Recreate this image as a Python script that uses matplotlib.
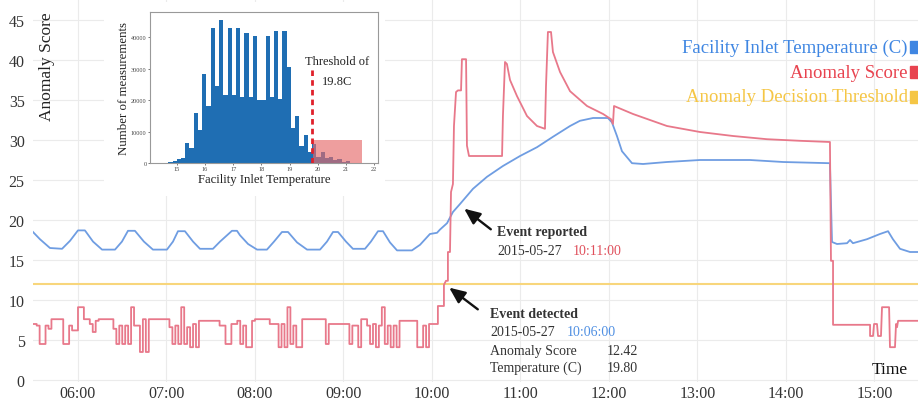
import matplotlib
matplotlib.use("Agg")
import matplotlib.pyplot as plt
from matplotlib.patches import Rectangle, FancyArrowPatch
import numpy as np

W, H = 918, 402
plt.rcParams['font.family'] = ['Liberation Serif', 'DejaVu Serif']

# ---------------- data ----------------
# Facility inlet temperature (minutes after midnight, degC)
temp_min = [329.5, 334.2, 341.0, 349.2, 354.6, 360.0, 364.7, 370.2, 376.3, 385.1,
            389.8, 393.9, 398.6, 404.7, 410.8, 420.3, 424.4, 427.8, 432.5, 438.0,
            442.7, 451.5, 456.3, 464.4, 467.8, 469.8, 475.3, 481.4, 488.1, 492.9,
            498.3, 502.4, 508.5, 515.3, 524.1, 528.8, 532.9, 536.3, 541.7, 546.4,
            554.6, 558.6, 563.4, 566.8, 571.5, 576.3, 586.4, 591.9, 598.6, 603.4,
            605.4, 610.2, 614.2, 619.0, 627.8, 637.3, 648.1, 659.7, 671.2, 682.0,
            693.6, 700.3, 709.2, 719.3, 722.0, 725.4, 728.8, 735.6, 743.1, 759.3,
            781.7, 815.6, 838.0, 869.8, 871.2, 874.6, 881.4, 883.4, 885.4, 894.9,
            903.7, 909.2, 912.5, 917.3, 924.1, 929.5]
temp_val = [18.5, 17.6, 16.5, 16.4, 17.4, 18.7, 18.7, 17.3, 16.3, 16.3,
            17.3, 18.65, 18.65, 17.3, 16.3, 16.3, 17.3, 18.6, 18.6, 17.3,
            16.4, 16.4, 17.3, 18.65, 18.65, 18.1, 17.0, 16.3, 16.3, 17.3,
            18.5, 18.5, 17.2, 16.3, 16.3, 17.3, 18.5, 18.5, 17.3, 16.4,
            16.4, 17.3, 18.6, 18.6, 17.2, 16.2, 16.2, 16.9, 18.25, 18.4,
            18.8, 19.6, 21.0, 22.0, 23.9, 25.4, 26.75, 28.0, 29.1, 30.4,
            31.75, 32.4, 32.75, 32.75, 32.2, 30.5, 28.6, 27.1, 27.0, 27.25,
            27.5, 27.5, 27.25, 27.1, 17.25, 17.0, 17.1, 17.5, 17.1, 17.6,
            18.25, 18.6, 17.6, 16.4, 16.0, 16.0]

# Anomaly score before the event: one value every 2 minutes from 05:30
score_base_start = 330
score_base_step = 2
score_base = [7.0, 6.8, 4.5, 4.5, 6.8, 6.4, 7.6, 7.6, 7.6, 7.6,
              4.5, 4.5, 6.8, 6.2, 6.2, 9.1, 9.1, 7.6, 7.6, 7.0,
              6.0, 7.4, 7.6, 7.6, 7.6, 7.6, 7.6, 6.4, 4.5, 6.8,
              4.5, 6.8, 4.5, 9.1, 6.8, 6.8, 3.5, 7.6, 3.5, 7.6,
              7.6, 7.6, 7.6, 7.6, 7.6, 7.6, 6.6, 4.5, 6.8, 4.5,
              9.1, 4.5, 6.6, 4.1, 7.0, 4.1, 7.4, 7.4, 7.4, 7.4,
              7.4, 7.4, 7.4, 6.8, 6.8, 4.5, 4.5, 7.0, 7.0, 7.4,
              4.5, 6.8, 4.1, 4.1, 7.4, 7.6, 7.6, 7.6, 7.6, 7.6,
              7.0, 7.0, 7.0, 4.1, 7.0, 4.1, 9.1, 4.5, 6.8, 4.1,
              4.1, 7.6, 7.6, 7.6, 7.6, 7.6, 7.6, 7.6, 7.6, 4.5,
              7.0, 7.0, 7.0, 7.0, 7.0, 7.0, 7.0, 4.5, 6.8, 6.8,
              4.1, 7.6, 7.6, 6.8, 4.5, 7.0, 4.1, 6.8, 9.1, 4.5,
              6.8, 4.1, 6.8, 4.1, 7.4, 7.4, 7.4, 7.4, 7.4, 7.4,
              4.1, 4.1, 6.8, 4.1, 7.0, 7.0, 7.0]
# Anomaly score from the event onwards (minutes after midnight, score)
score_evt_min = [604.0, 604.0, 608.1, 608.1, 609.5, 610.8, 610.8, 612.2, 612.9, 614.2,
                 614.9, 616.3, 617.6, 619.7, 620.3, 623.1, 623.7, 625.1, 647.5, 648.1,
                 649.5, 650.8, 652.9, 657.6, 664.4, 671.2, 676.6, 677.3, 678.6, 680.7,
                 682.0, 686.8, 693.6, 705.1, 716.0, 721.4, 722.7, 723.4, 736.3, 759.3,
                 781.7, 804.1, 827.1, 849.5, 869.8, 870.5, 871.9, 871.9, 897.0, 897.0,
                 899.0, 899.7, 901.7, 902.4, 904.4, 905.1, 909.9, 910.5, 913.9, 914.6,
                 915.3, 916.0, 929.5]
score_evt_val = [7.0, 9.25, 9.25, 11.9, 12.4, 12.4, 16.0, 16.0, 23.5, 24.5,
                 31.75, 36.0, 36.2, 36.2, 40.1, 40.1, 29.3, 28.0, 28.0, 33.0,
                 39.75, 39.5, 37.5, 35.5, 33.0, 31.75, 31.4, 36.75, 43.5, 43.5,
                 41.0, 38.5, 36.1, 34.25, 33.25, 32.6, 32.0, 34.25, 33.25, 31.75,
                 31.0, 30.5, 30.1, 29.9, 29.75, 14.9, 14.9, 6.9, 6.9, 5.5,
                 5.5, 7.0, 7.0, 5.5, 5.5, 9.1, 9.1, 4.1, 4.1, 7.0,
                 6.6, 7.4, 7.4]
decision_threshold = 12.0

hour_ticks = [6, 7, 8, 9, 10, 11, 12, 13, 14, 15]
hour_labels = ['06:00', '07:00', '08:00', '09:00', '10:00',
               '11:00', '12:00', '13:00', '14:00', '15:00']
score_ticks = [0, 5, 10, 15, 20, 25, 30, 35, 40, 45]

# Inset histogram
hist_start = 14.7
hist_width = 0.15
hist_counts = [300, 500, 1200, 1500, 6300, 4800, 16000, 10500, 28500, 18000,
               43000, 24500, 45500, 21500, 43000, 21500, 43000, 21000, 41500, 21000,
               40500, 20000, 20000, 40500, 21000, 42000, 20500, 42000, 30500, 11000,
               15000, 5500, 9000, 3500, 6000, 2000, 3500, 1500, 2000, 800,
               1200, 300, 600, 100]
hist_threshold = 19.8
tail_box = (19.82, 21.57, 7200)
hist_xticks = [15, 16, 17, 18, 19, 20, 21, 22]
hist_yticks = [0, 10000, 20000, 30000, 40000]

# ---------------- colours ----------------
c_temp = '#6f9de2'
c_score = '#e8788a'
c_thr = '#f8d67c'

def fx(px):
    return px / W

def fy(py):
    return 1 - py / H

fig = plt.figure(figsize=(W / 100, H / 100), dpi=100)
ax = fig.add_axes([fx(33), fy(383), 1 - fx(33), 383 / H])
ax.set_zorder(0)

# score polyline
sx, sy = [], []
for i, v in enumerate(score_base):
    t0 = score_base_start + i * score_base_step
    sx += [t0, t0 + score_base_step]
    sy += [v, v]
sx = np.array(sx + score_evt_min) / 60.0
sy = np.array(sy + score_evt_val)

ax.axhline(decision_threshold, color=c_thr, lw=1.5, zorder=2)
ax.plot(np.array(temp_min) / 60.0, temp_val, color=c_temp, lw=1.3, zorder=3)
ax.plot(sx, sy, color=c_score, lw=1.3, zorder=4)

ax.set_xlim(329.5 / 60, 929.5 / 60)
ax.set_ylim(-0.25, 47.625)
ax.set_xticks(hour_ticks)
ax.set_xticklabels(hour_labels)
ax.set_yticks(score_ticks)
for s in ax.spines.values():
    s.set_visible(False)
ax.tick_params(axis='both', length=0, labelsize=11.5, colors='#333333')
ax.tick_params(axis='y', pad=6)
ax.tick_params(axis='x', pad=2)
ax.grid(True, color='#ebebeb', lw=0.8)
ax.set_axisbelow(True)

fig.text(fx(47), fy(12), 'Anomaly Score', rotation=90, ha='center', va='top',
         fontsize=12.5, color='#222222')
fig.text(fx(908), fy(370), 'Time', ha='right', va='center', fontsize=12.5, color='#111111')

# legend
leg = [('Facility Inlet Temperature (C)', '#3f86e2', 48),
       ('Anomaly Score', '#e8434f', 73),
       ('Anomaly Decision Threshold', '#f5c645', 98)]
for txt, col, py in leg:
    fig.text(fx(908), fy(py), txt, ha='right', va='center', fontsize=13.5, color=col)
    fig.patches.append(Rectangle((fx(910), fy(py + 6)), fx(9), 12 / H,
                                 transform=fig.transFigure, color=col, zorder=5))

# annotations
dark = '#333333'
ann_fs = 10
fig.text(fx(497), fy(233), 'Event reported', fontweight='bold', fontsize=ann_fs,
         color=dark, va='center')
fig.text(fx(497), fy(252), '2015-05-27', fontsize=ann_fs, color=dark, va='center')
fig.text(fx(573), fy(252), '10:11:00', fontsize=ann_fs, color='#e0505c', va='center')
fig.text(fx(490), fy(315), 'Event detected', fontweight='bold', fontsize=ann_fs,
         color=dark, va='center')
fig.text(fx(490), fy(333), '2015-05-27', fontsize=ann_fs, color=dark, va='center')
fig.text(fx(567), fy(333), '10:06:00', fontsize=ann_fs, color='#4f8fe2', va='center')
fig.text(fx(490), fy(352), 'Anomaly Score', fontsize=ann_fs, color=dark, va='center')
fig.text(fx(607), fy(352), '12.42', fontsize=ann_fs, color=dark, va='center')
fig.text(fx(490), fy(368), 'Temperature (C)', fontsize=ann_fs, color=dark, va='center')
fig.text(fx(607), fy(368), '19.80', fontsize=ann_fs, color=dark, va='center')

arrow_kw = dict(arrowstyle='-|>,head_length=0.8,head_width=0.35', color='#111111', lw=1.7)
fig.add_artist(FancyArrowPatch((fx(493), fy(232)), (fx(462), fy(208)),
               transform=fig.transFigure, mutation_scale=12, zorder=6, **arrow_kw))
fig.add_artist(FancyArrowPatch((fx(480), fy(312)), (fx(447), fy(287)),
               transform=fig.transFigure, mutation_scale=12, zorder=6, **arrow_kw))

# white backing for inset
fig.patches.append(Rectangle((fx(104), fy(197)), fx(385 - 104), (197 - 3) / H,
                             transform=fig.transFigure, facecolor='white',
                             edgecolor='none', zorder=1))

# inset histogram
ins = fig.add_axes([fx(150), fy(164), fx(378 - 150), (164 - 13) / H])
ins.set_zorder(2)
edges = hist_start + hist_width * np.arange(len(hist_counts))
ins.bar(edges, hist_counts, width=hist_width, align='edge', color='#1f6eb3', lw=0)
ins.add_patch(Rectangle((tail_box[0], 0), tail_box[1] - tail_box[0], tail_box[2],
                        facecolor='#e56a6a', alpha=0.65, lw=0, zorder=3))
ins.plot([hist_threshold, hist_threshold], [0, 30000], color='#e0202a', lw=2.0,
         ls=(0, (2, 1.5)), zorder=4)
ins.set_xlim(14.05, 22.14)
ins.set_ylim(0, 48085)
ins.set_xticks(hist_xticks)
ins.set_yticks(hist_yticks)
ins.set_yticklabels([str(v) for v in hist_yticks])
ins.tick_params(labelsize=4.5, length=1.5, width=0.5, pad=1, colors='#444444')
for s in ins.spines.values():
    s.set_color('#999999')
    s.set_linewidth(0.8)
ins.set_xlabel('Facility Inlet Temperature', fontsize=9.2, labelpad=1, color='#222222')
ins.set_ylabel('Number of measurements', fontsize=9.3, labelpad=1, color='#222222')
ins.text(20.7, 32500, 'Threshold of', ha='center', va='center', fontsize=9, color='#222222')
ins.text(20.7, 26100, '19.8C', ha='center', va='center', fontsize=9, color='#222222')

fig.savefig('out.png', dpi=100)
